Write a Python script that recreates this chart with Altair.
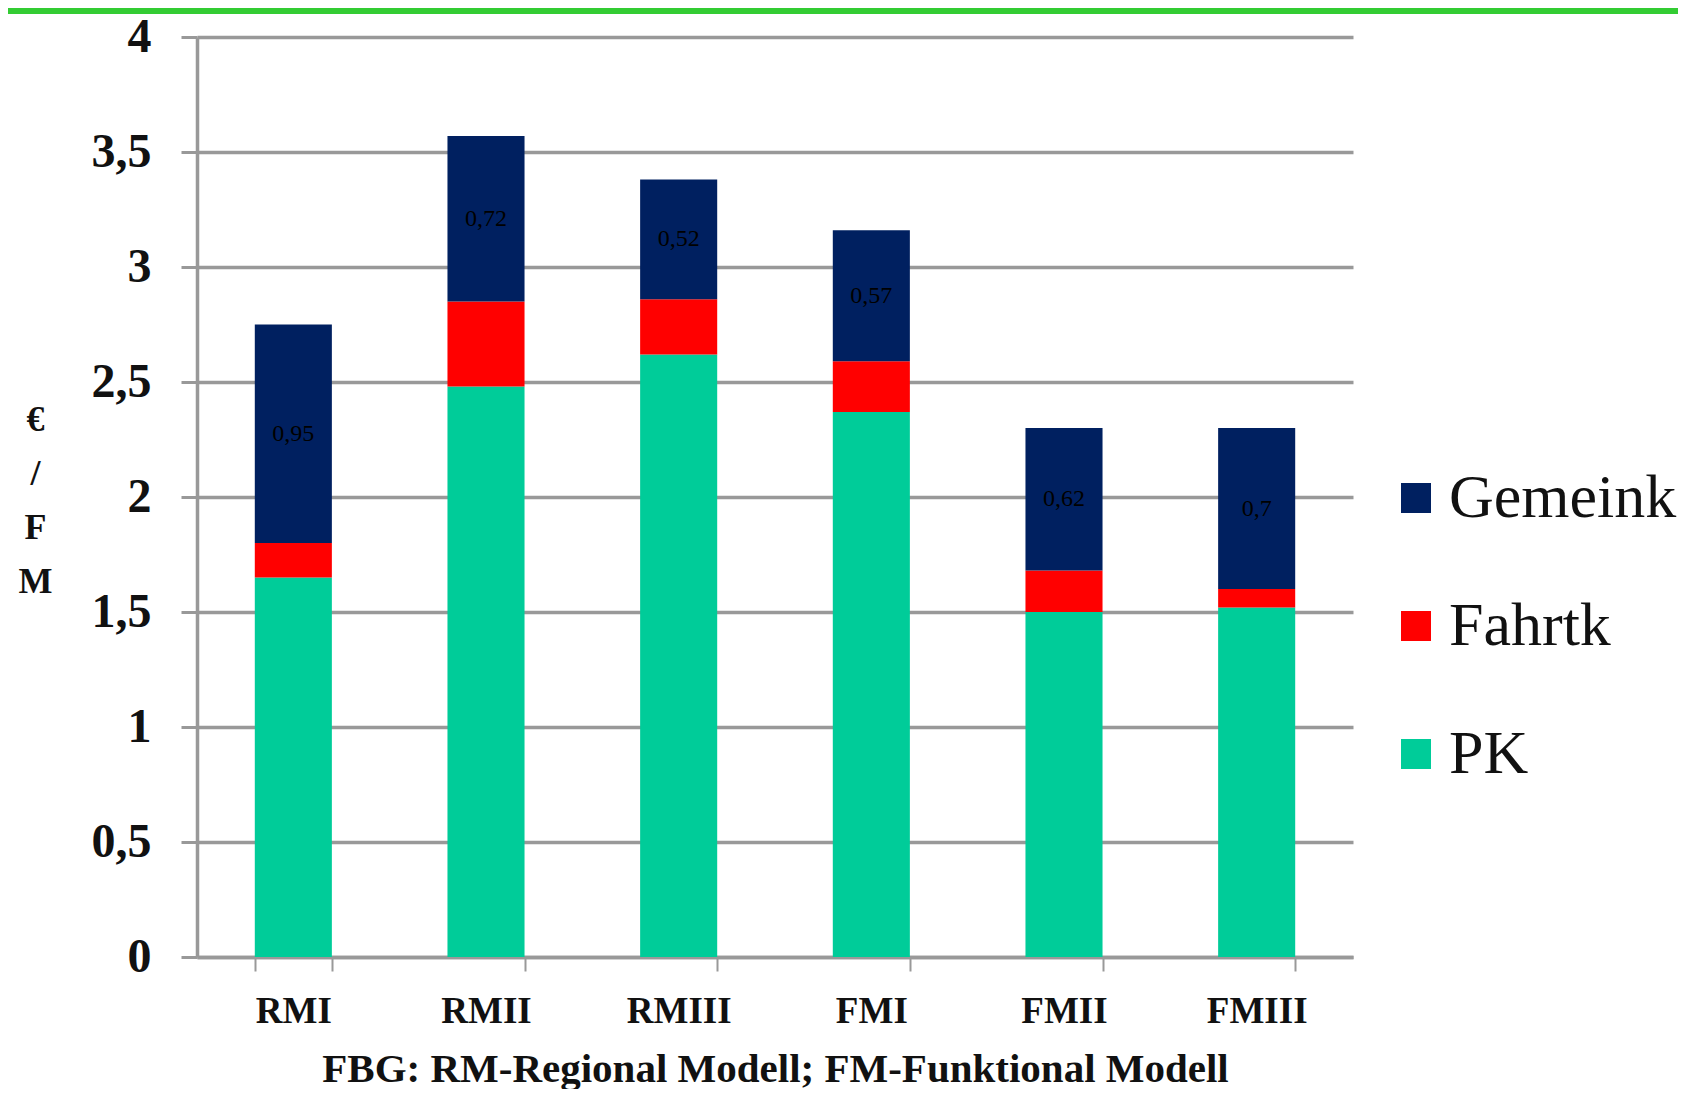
import altair as alt
import pandas as pd

categories = ["RMI", "RMII", "RMIII", "FMI", "FMII", "FMIII"]
pk = [1.65, 2.48, 2.62, 2.37, 1.50, 1.52]
fahrtk = [0.15, 0.37, 0.24, 0.22, 0.18, 0.08]
gemeink = [0.95, 0.72, 0.52, 0.57, 0.62, 0.70]
gemeink_labels = ["0,95", "0,72", "0,52", "0,57", "0,62", "0,7"]
series_names = ["Gemeink", "Fahrtk", "PK"]
series_colors = ["#002060", "#FF0000", "#00CC99"]
y_ticks = [0, 0.5, 1, 1.5, 2, 2.5, 3, 3.5, 4]

rows = []
for i, c in enumerate(categories):
    rows.append({"cat": c, "series": "PK", "value": pk[i], "ord": 0})
    rows.append({"cat": c, "series": "Fahrtk", "value": fahrtk[i], "ord": 1})
    rows.append({"cat": c, "series": "Gemeink", "value": gemeink[i], "ord": 2})
df = pd.DataFrame(rows)

lab = pd.DataFrame({
    "cat": categories,
    "base": [pk[i] + fahrtk[i] for i in range(len(categories))],
    "g": gemeink,
    "label": gemeink_labels,
})

GRAY = "#999999"
SERIF = "Liberation Serif"

x_enc = alt.X(
    "cat:N",
    sort=categories,
    scale=alt.Scale(paddingInner=0.6, paddingOuter=0.3),
    axis=alt.Axis(
        title="FBG: RM-Regional Modell; FM-Funktional Modell",
        labelAngle=0,
        tickBand="extent",
        labelFont=SERIF,
        labelFontWeight="bold",
        labelFontSize=37,
        labelColor="#111111",
        labelPadding=22,
        tickSize=14,
        tickWidth=2,
        tickColor=GRAY,
        domainColor=GRAY,
        domainWidth=3.5,
        titleFont=SERIF,
        titleFontWeight="bold",
        titleFontSize=41,
        titleColor="#111111",
        titleBaseline="alphabetic",
        titleY=124,
        grid=False,
    ),
)

bars = alt.Chart(df).mark_bar().encode(
    x=x_enc,
    y=alt.Y(
        "value:Q",
        stack="zero",
        scale=alt.Scale(domain=[0, 4]),
        axis=alt.Axis(
            values=y_ticks,
            format="~g",
            labelExpr="replace(datum.label, '.', ',')",
            labelFont=SERIF,
            labelFontWeight="bold",
            labelFontSize=48,
            labelColor="#111111",
            labelPadding=30,
            tickSize=16,
            tickWidth=3,
            tickColor=GRAY,
            domainColor=GRAY,
            domainWidth=3.5,
            grid=True,
            gridColor=GRAY,
            gridWidth=3.5,
            title=["€", "/", "F", "M"],
            titleAngle=0,
            titleFont=SERIF,
            titleFontWeight="bold",
            titleFontSize=36,
            titleLineHeight=54,
            titleColor="#111111",
            titleAlign="center",
            titleBaseline="middle",
            titleX=-162,
            titleY=382,
        ),
    ),
    color=alt.Color(
        "series:N",
        scale=alt.Scale(domain=series_names, range=series_colors),
        legend=alt.Legend(
            title=None,
            orient="none",
            legendX=1188,
            legendY=430,
            symbolType="square",
            symbolSize=900,
            symbolStrokeWidth=0,
            labelFont=SERIF,
            labelFontSize=62,
            labelLimit=400,
            labelColor="#111111",
            labelOffset=2,
            rowPadding=66,
        ),
    ),
    order=alt.Order("ord:Q"),
)

text = alt.Chart(lab).transform_calculate(
    mid="datum.base + datum.g / 2"
).mark_text(font=SERIF, fontSize=24, color="#000000", baseline="middle").encode(
    x=alt.X("cat:N", sort=categories),
    y=alt.Y("mid:Q"),
    text="label:N",
)

topline = alt.Chart(pd.DataFrame({"k": [0]})).mark_rule(
    color="#33CC33", strokeWidth=6
).encode(x=alt.value(-189), x2=alt.value(1481), y=alt.value(-26))

chart = alt.layer(bars, text, topline).properties(
    width=1156,
    height=920,
    padding={"left": 189, "top": 29, "right": 325, "bottom": 132},
    autosize=alt.AutoSizeParams(type="none"),
).configure_view(stroke=None)

chart.save("out.html", embed_options={"renderer": "svg", "actions": False})
